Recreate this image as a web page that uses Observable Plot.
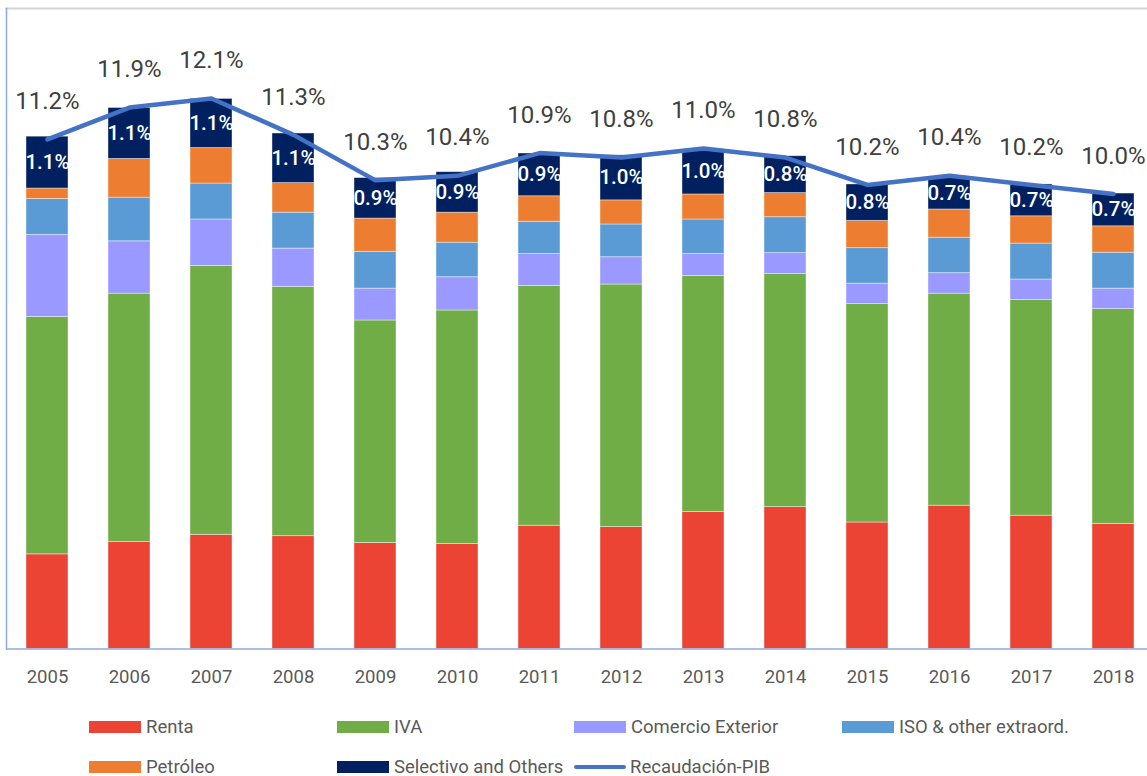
<!DOCTYPE html>
<html><head><meta charset="utf-8">
<script src="https://cdn.jsdelivr.net/npm/d3@7"></script>
<script src="https://cdn.jsdelivr.net/npm/@observablehq/plot@0.6"></script>
<style>
body{margin:0;background:#fff;overflow:hidden;font-family:Roboto, sans-serif;width:1147px;height:776px;position:relative}
#chart svg{display:block}
#legend{position:absolute;left:89px;top:707px;display:grid;grid-template-columns:248px 237px 268px auto;grid-auto-rows:40px}
#legend .item{display:flex;align-items:center;font-size:18.5px;color:#595959;white-space:nowrap}
#legend .sw{width:52px;height:12px;margin-right:5px;flex:none}
#legend .ln{width:52px;height:4.5px;border-radius:3px;margin-right:4px;flex:none}
</style></head><body><div id="chart"></div><div id="legend"></div>
<script>
const years = [2005,2006,2007,2008,2009,2010,2011,2012,2013,2014,2015,2016,2017,2018];
const renta     = [2.08,2.35,2.51,2.48,2.33,2.31,2.71,2.68,3.01,3.12,2.78,3.15,2.93,2.75];
const iva       = [5.22,5.46,5.91,5.48,4.89,5.13,5.27,5.33,5.19,5.12,4.80,4.66,4.74,4.72];
const comercio  = [1.80,1.15,1.02,0.84,0.70,0.73,0.70,0.60,0.48,0.46,0.45,0.45,0.45,0.45];
const iso       = [0.79,0.96,0.79,0.79,0.81,0.76,0.71,0.72,0.76,0.79,0.78,0.78,0.79,0.79];
const petroleo  = [0.23,0.85,0.78,0.65,0.73,0.66,0.56,0.53,0.55,0.53,0.60,0.62,0.60,0.58];
const selectivo = [1.14,1.12,1.08,1.09,0.89,0.89,0.94,0.99,0.99,0.81,0.80,0.72,0.70,0.72];
const recaudacion = [11.2,11.9,12.1,11.3,10.3,10.4,10.9,10.8,11.0,10.8,10.2,10.4,10.2,10.0];

const categories = ["Renta","IVA","Comercio Exterior","ISO & other extraord.","Petróleo","Selectivo and Others"];
const colors = ["#EC4434","#70AD47","#9999FF","#5B9BD5","#ED7D31","#002060"];
const lineName = "Recaudación-PIB";
const lineColor = "#4472C4";
const series = [renta, iva, comercio, iso, petroleo, selectivo];

const rows = [];
years.forEach((yr, i) => series.forEach((vals, k) => rows.push({year: yr, category: categories[k], value: vals[i]})));
const totals = years.map((yr, i) => ({year: yr, value: recaudacion[i]}));
const selLabels = years.map((yr, i) => {
  const base = renta[i] + iva[i] + comercio[i] + iso[i] + petroleo[i];
  return {year: yr, y: base + selectivo[i] / 2, text: selectivo[i].toFixed(1) + "%"};
});

const chart = Plot.plot({
  width: 1147, height: 700,
  marginTop: 8, marginBottom: 51.5, marginLeft: 6, marginRight: -7,
  style: {fontFamily: "Roboto, sans-serif", background: "white", overflow: "visible"},
  x: {type: "band", domain: years, paddingInner: 0.488, paddingOuter: 0.244, label: null},
  y: {domain: [0, 14.077], axis: null},
  color: {domain: categories, range: colors},
  marks: [
    Plot.frame({anchor: "top", stroke: "#D0D3DA", strokeWidth: 2}),
    Plot.barY(rows, {x: "year", y: "value", fill: "category", stroke: "#ffffff", strokeOpacity: 0.5, strokeWidth: 0.8}),
    Plot.frame({anchor: "left", stroke: "#8FAADC", strokeWidth: 1.5}),
    Plot.ruleY([0], {stroke: "#8FAADC", strokeWidth: 1.5}),
    Plot.axisX({tickSize: 0, tickPadding: 21, fontSize: 18.5, fill: "#595959", label: null, tickFormat: d => String(d)}),
    Plot.text(selLabels, {x: "year", y: "y", text: "text", fill: "white", fontSize: 20.5, fontWeight: 500}),
    Plot.line(totals, {x: "year", y: "value", stroke: lineColor, strokeWidth: 4.5}),
    Plot.text(totals, {x: "year", y: "value", text: d => d.value.toFixed(1) + "%", dy: -38, fontSize: 24, fill: "#404040"})
  ]
});
document.getElementById("chart").appendChild(chart);

const legend = document.getElementById("legend");
const legendItems = [
  {label: categories[0], color: colors[0]},
  {label: categories[1], color: colors[1]},
  {label: categories[2], color: colors[2]},
  {label: categories[3], color: colors[3]},
  {label: categories[4], color: colors[4]},
  {label: categories[5], color: colors[5]},
  {label: lineName, color: lineColor, line: true}
];
legendItems.forEach(it => {
  const d = document.createElement("div");
  d.className = "item";
  const s = document.createElement("span");
  s.className = it.line ? "ln" : "sw";
  s.style.background = it.color;
  d.appendChild(s);
  d.appendChild(document.createTextNode(it.label));
  legend.appendChild(d);
});
</script></body></html>
